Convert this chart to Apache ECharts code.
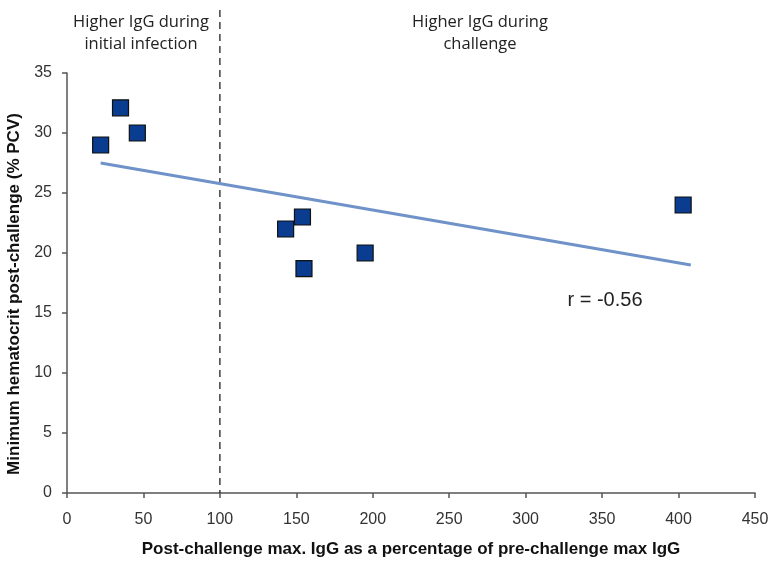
<!DOCTYPE html>
<html>
<head>
<meta charset="utf-8">
<script src="https://cdn.jsdelivr.net/npm/echarts@6/dist/echarts.min.js"></script>
<style>html,body{margin:0;padding:0;background:#fff}#c{width:769px;height:561px}</style>
</head>
<body>
<div id="c"></div>
<script>
const pointX = [22, 35, 46, 143, 154, 155, 195, 403];
const pointY = [29, 32.1, 30, 22, 23, 18.7, 20, 24];
const trendX = [22, 408];
const trendY = [27.5, 19.0];
const dividerX = 100;
const xTitle = 'Post-challenge max. IgG as a percentage of pre-challenge max IgG';
const yTitle = 'Minimum hematocrit post-challenge (% PCV)';
const leftNote = 'Higher IgG during\ninitial infection';
const rightNote = 'Higher IgG during\nchallenge';
const rText = 'r = -0.56';

const chart = echarts.init(document.getElementById('c'));
const axisCommon = {
  axisLine: {show: true, lineStyle: {color: '#555', width: 1.5}},
  axisTick: {show: true, inside: false, length: 5, lineStyle: {color: '#555', width: 1.5}},
  splitLine: {show: false},
  axisLabel: {color: '#333', fontFamily: 'Liberation Sans', fontSize: 16}
};
chart.setOption({
  animation: false,
  backgroundColor: '#fff',
  grid: {left: 67, right: 14, top: 73, bottom: 68, containLabel: false, outerBoundsMode: 'none'},
  xAxis: Object.assign({}, axisCommon, {
    type: 'value', min: 0, max: 450, interval: 50,
    name: xTitle, nameLocation: 'middle', nameGap: 48,
    nameTextStyle: {fontFamily: 'Liberation Sans', fontWeight: 'bold', fontSize: 17, color: '#111'},
    axisLabel: Object.assign({}, axisCommon.axisLabel, {margin: 19})
  }),
  yAxis: Object.assign({}, axisCommon, {
    type: 'value', min: 0, max: 35, interval: 5,
    name: yTitle, nameLocation: 'middle', nameGap: 41,
    nameTextStyle: {fontFamily: 'Liberation Sans', fontWeight: 'bold', fontSize: 17, color: '#111', padding: [0, 22, 0, 0]},
    axisLabel: Object.assign({}, axisCommon.axisLabel, {margin: 15})
  }),
  series: [
    {
      type: 'line',
      data: trendX.map((x, i) => [x, trendY[i]]),
      showSymbol: false, symbol: 'none',
      lineStyle: {color: '#6f93c8', width: 3},
      z: 2
    },
    {
      type: 'scatter',
      data: pointX.map((x, i) => [x, pointY[i]]),
      symbol: 'rect', symbolSize: 16,
      itemStyle: {color: '#0a3c8f', borderColor: '#111', borderWidth: 1.2, opacity: 1},
      z: 3
    }
  ]
});

function drawExtras() {
  const px = chart.convertToPixel({xAxisIndex: 0}, dividerX);
  const y0 = chart.convertToPixel({yAxisIndex: 0}, 0);
  chart.setOption({
    graphic: [
      {type: 'line', shape: {x1: px, y1: 10, x2: px, y2: y0},
       style: {stroke: '#222', lineWidth: 1.3, lineDash: [7, 5]}, z: 1},
      {type: 'text', x: 141, y: 11,
       style: {text: leftNote, font: '16.5px "Open Sans"', fill: '#222', align: 'center', lineHeight: 22}},
      {type: 'text', x: 480, y: 11,
       style: {text: rightNote, font: '16.5px "Open Sans"', fill: '#222', align: 'center', lineHeight: 22}},
      {type: 'text', x: 605, y: 300,
       style: {text: rText, font: '20px "Liberation Sans"', fill: '#222', align: 'center', verticalAlign: 'middle'}}
    ]
  });
}
drawExtras();
</script>
</body>
</html>
